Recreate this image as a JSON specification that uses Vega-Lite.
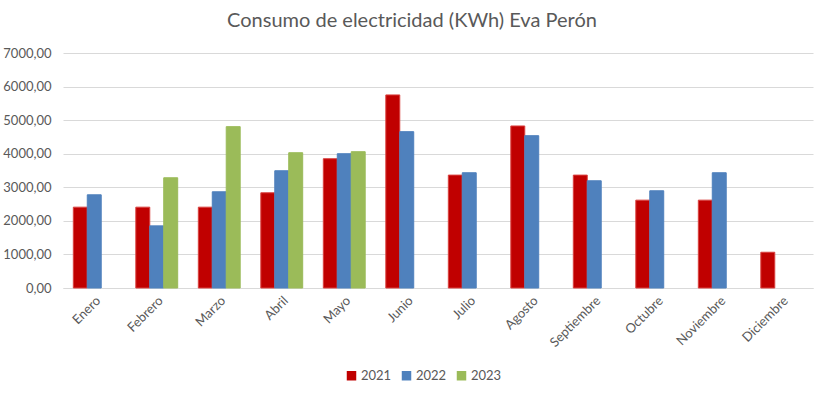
{
  "$schema": "https://vega.github.io/schema/vega-lite/v6.json",
  "width": 750,
  "height": 235,
  "autosize": {"type": "none"},
  "padding": {"left": 63, "top": 53, "right": 14, "bottom": 105},
  "background": "white",
  "config": {
    "font": "Lato",
    "view": {"stroke": null}
  },
  "title": {
    "text": "Consumo de electricidad (KWh) Eva Perón",
    "fontSize": 20,
    "fontWeight": "normal",
    "color": "#595959",
    "font": "Lato",
    "anchor": "middle",
    "dx": -26,
    "offset": 16
  },
  "data": {
    "values": [
      {"mes": "Enero", "anio": "2021", "kwh": 2408},
      {"mes": "Enero", "anio": "2022", "kwh": 2776},
      {"mes": "Febrero", "anio": "2021", "kwh": 2408},
      {"mes": "Febrero", "anio": "2022", "kwh": 1851},
      {"mes": "Febrero", "anio": "2023", "kwh": 3284},
      {"mes": "Marzo", "anio": "2021", "kwh": 2408},
      {"mes": "Marzo", "anio": "2022", "kwh": 2866},
      {"mes": "Marzo", "anio": "2023", "kwh": 4806},
      {"mes": "Abril", "anio": "2021", "kwh": 2836},
      {"mes": "Abril", "anio": "2022", "kwh": 3493},
      {"mes": "Abril", "anio": "2023", "kwh": 4030},
      {"mes": "Mayo", "anio": "2021", "kwh": 3851},
      {"mes": "Mayo", "anio": "2022", "kwh": 4000},
      {"mes": "Mayo", "anio": "2023", "kwh": 4060},
      {"mes": "Junio", "anio": "2021", "kwh": 5751},
      {"mes": "Junio", "anio": "2022", "kwh": 4657},
      {"mes": "Julio", "anio": "2021", "kwh": 3363},
      {"mes": "Julio", "anio": "2022", "kwh": 3433},
      {"mes": "Agosto", "anio": "2021", "kwh": 4826},
      {"mes": "Agosto", "anio": "2022", "kwh": 4537},
      {"mes": "Septiembre", "anio": "2021", "kwh": 3363},
      {"mes": "Septiembre", "anio": "2022", "kwh": 3194},
      {"mes": "Octubre", "anio": "2021", "kwh": 2617},
      {"mes": "Octubre", "anio": "2022", "kwh": 2896},
      {"mes": "Noviembre", "anio": "2021", "kwh": 2617},
      {"mes": "Noviembre", "anio": "2022", "kwh": 3433},
      {"mes": "Diciembre", "anio": "2021", "kwh": 1065}
    ]
  },
  "mark": {"type": "bar", "strokeWidth": 1},
  "encoding": {
    "x": {
      "field": "mes",
      "type": "nominal",
      "sort": ["Enero", "Febrero", "Marzo", "Abril", "Mayo", "Junio", "Julio", "Agosto", "Septiembre", "Octubre", "Noviembre", "Diciembre"],
      "scale": {"paddingInner": 0.33, "paddingOuter": 0.165},
      "axis": {
        "title": null,
        "labelAngle": -45,
        "labelAlign": "right",
        "labelBaseline": "top",
        "labelFontSize": 13,
        "labelColor": "#595959",
        "labelPadding": 6,
        "ticks": false,
        "domainColor": "#d9d9d9",
        "domainWidth": 1.2,
        "grid": false
      }
    },
    "xOffset": {
      "field": "anio",
      "type": "nominal",
      "scale": {"domain": ["2021", "2022", "2023"], "paddingInner": 0, "paddingOuter": 0}
    },
    "y": {
      "field": "kwh",
      "type": "quantitative",
      "scale": {"domain": [0, 7000], "nice": false},
      "axis": {
        "title": null,
        "values": [0, 1000, 2000, 3000, 4000, 5000, 6000, 7000],
        "labelExpr": "replace(format(datum.value, '.2f'), '.', ',')",
        "labelFontSize": 13,
        "labelColor": "#595959",
        "labelPadding": 12,
        "ticks": false,
        "domain": false,
        "gridColor": "#d9d9d9",
        "gridWidth": 1.2
      }
    },
    "color": {
      "field": "anio",
      "type": "nominal",
      "scale": {"domain": ["2021", "2022", "2023"], "range": ["#C00000", "#4F81BD", "#9BBB59"]},
      "legend": {
        "title": null,
        "orient": "none",
        "legendX": 282,
        "legendY": 316,
        "direction": "horizontal",
        "symbolType": "square",
        "symbolSize": 90,
        "symbolStrokeWidth": 0,
        "labelFontSize": 13,
        "labelColor": "#595959",
        "columnPadding": 8,
        "labelOffset": 3
      }
    },
    "stroke": {
      "field": "anio",
      "type": "nominal",
      "scale": {"domain": ["2021", "2022", "2023"], "range": ["#D9413F", "#4F81BD", "#9BBB59"]},
      "legend": null
    }
  }
}
